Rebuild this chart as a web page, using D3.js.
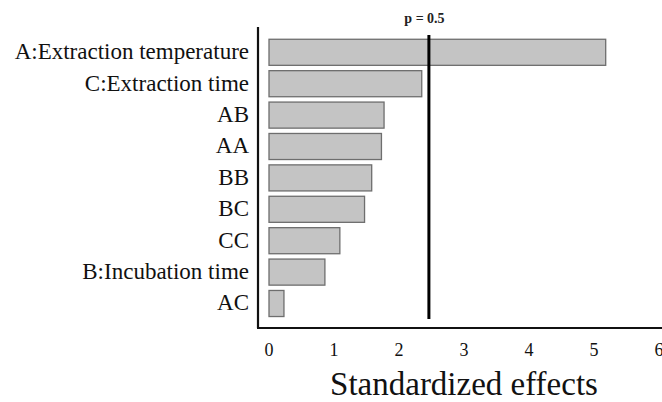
<!DOCTYPE html>
<html>
<head>
<meta charset="utf-8">
<script src="https://cdn.jsdelivr.net/npm/d3@7"></script>
<style>
  body { margin: 0; background: #fff; }
  svg { display: block; }
</style>
</head>
<body>
<div id="chart"></div>
<script>
// data
const factors = [
  "A:Extraction temperature",
  "C:Extraction time",
  "AB",
  "AA",
  "BB",
  "BC",
  "CC",
  "B:Incubation time",
  "AC"
];
const effects = [5.18, 2.35, 1.77, 1.73, 1.58, 1.47, 1.09, 0.86, 0.23];
const xTicks = [0, 1, 2, 3, 4, 5, 6];
const cutoff = 2.46;
const cutoffLabel = "p = 0.5";
const xTitle = "Standardized effects";

const W = 662, H = 402;
const axisX = 258, axisBottom = 328, axisTop = 27;

const svg = d3.select("#chart").append("svg")
  .attr("width", W)
  .attr("height", H)
  .style("font-family", "'Liberation Serif', 'Times New Roman', serif");

const x = d3.scaleLinear().domain([0, 6]).range([269, 659]);
const y = d3.scaleBand()
  .domain(factors)
  .range([36.6, 319.2])
  .paddingInner(0.17)
  .paddingOuter(0.085);

// bars
svg.append("g")
  .selectAll("rect")
  .data(factors)
  .join("rect")
  .attr("x", x(0))
  .attr("y", (d) => y(d))
  .attr("width", (d, i) => x(effects[i]) - x(0))
  .attr("height", y.bandwidth())
  .attr("fill", "#c4c4c4")
  .attr("stroke", "#6e6e6e")
  .attr("stroke-width", 1.3);

// category labels
svg.append("g")
  .selectAll("text")
  .data(factors)
  .join("text")
  .attr("x", 249)
  .attr("y", (d) => y(d) + y.bandwidth() / 2)
  .attr("dy", "0.3em")
  .attr("text-anchor", "end")
  .attr("font-size", "23px")
  .attr("fill", "#111")
  .text((d) => d);

// axes lines (no ticks)
svg.append("line")
  .attr("x1", axisX).attr("x2", axisX)
  .attr("y1", axisTop).attr("y2", axisBottom)
  .attr("stroke", "#111").attr("stroke-width", 2.2);
svg.append("line")
  .attr("x1", axisX - 1).attr("x2", W)
  .attr("y1", axisBottom).attr("y2", axisBottom)
  .attr("stroke", "#111").attr("stroke-width", 2.2);

// tick labels
svg.append("g")
  .selectAll("text")
  .data(xTicks)
  .join("text")
  .attr("x", (d) => x(d))
  .attr("y", 356)
  .attr("text-anchor", "middle")
  .attr("font-size", "18px")
  .attr("fill", "#111")
  .text((d) => d);

// significance line
svg.append("line")
  .attr("x1", x(cutoff)).attr("x2", x(cutoff))
  .attr("y1", 35).attr("y2", 319)
  .attr("stroke", "#000").attr("stroke-width", 3);
svg.append("text")
  .attr("x", 424.5)
  .attr("y", 22.5)
  .attr("text-anchor", "middle")
  .attr("font-size", "14px")
  .attr("font-weight", "bold")
  .attr("fill", "#222")
  .text(cutoffLabel);

// x title
svg.append("text")
  .attr("x", 464)
  .attr("y", 395)
  .attr("text-anchor", "middle")
  .attr("font-size", "33px")
  .attr("fill", "#111")
  .text(xTitle);
</script>
</body>
</html>
